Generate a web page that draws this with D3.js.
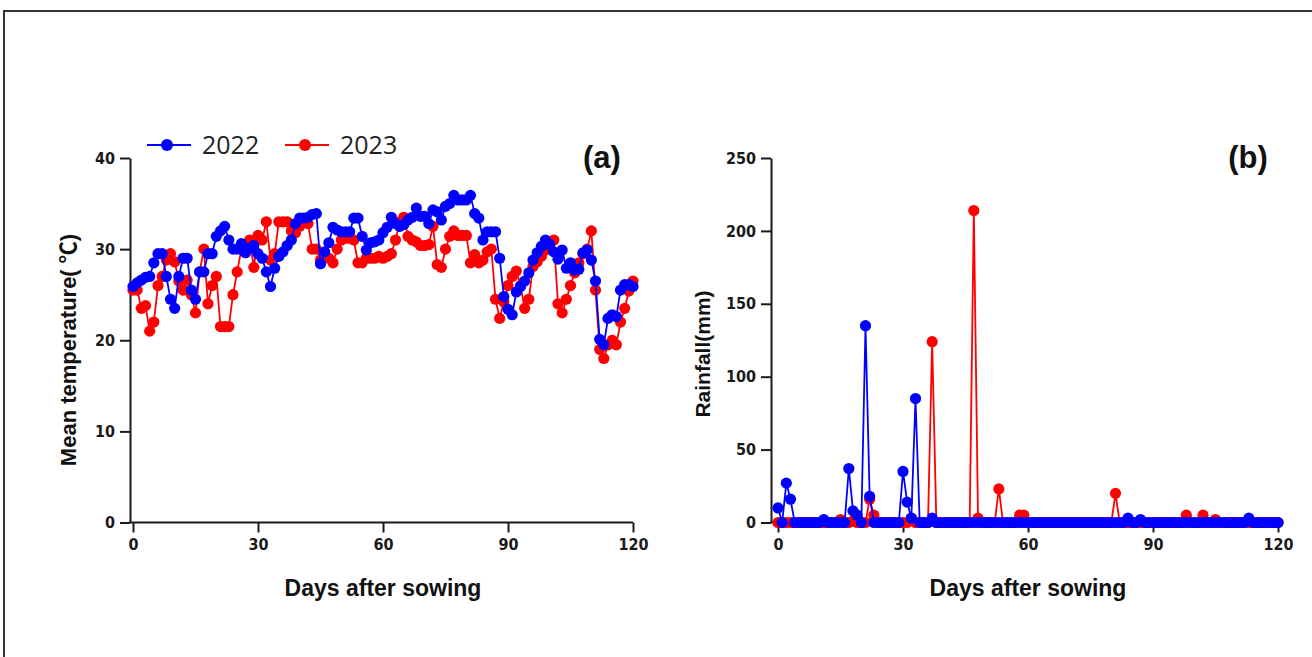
<!DOCTYPE html>
<html>
<head>
<meta charset="utf-8">
<script src="https://cdn.jsdelivr.net/npm/d3@7"></script>
<style>
  body { margin: 0; background: #fff; }
  .tick text { font-family: "Liberation Sans Narrow", "DejaVu Sans Condensed", "Liberation Sans", sans-serif; font-weight: bold; font-size: 16px; fill: #1a1a1a; }
  .tick line, .axis-line { stroke: #1a1a1a; stroke-width: 2; }
  .title { font-family: "Liberation Sans", Arial, sans-serif; font-weight: bold; font-size: 21px; fill: #111; }
  .xtitle { font-size: 23px; }
  .legend { font-family: "Open Sans", "Noto Sans", sans-serif; font-size: 25px; fill: #222; }
  .tag { font-family: "Liberation Sans", Arial, sans-serif; font-weight: bold; font-size: 31px; fill: #111; }
</style>
</head>
<body>
<svg id="chart" width="1312" height="657"></svg>
<script>
'use strict';

// days after sowing (0..120)
const days = d3.range(0, 121);
const years = ['2022', '2023'];
const xTicks = [0, 30, 60, 90, 120];
const tempTicks = [0, 10, 20, 30, 40];
const rainTicks = [0, 50, 100, 150, 200, 250];

// mean temperature (°C)
const temp2022 = [
  25.9, 26.3, 26.6, 26.9, 27.0, 28.5, 29.5, 29.5, 27.0, 24.5,
  23.5, 27.0, 29.0, 29.0, 25.5, 24.5, 27.5, 27.5, 29.5, 29.5,
  31.4, 32.0, 32.5, 31.0, 30.0, 30.0, 30.6, 29.6, 30.1, 30.4,
  29.5, 29.0, 27.5, 25.9, 27.9, 29.2, 29.7, 30.4, 31.0, 32.8,
  33.4, 33.4, 33.5, 33.8, 33.9, 28.4, 29.7, 30.7, 32.4, 32.1,
  31.9, 31.9, 31.9, 33.4, 33.4, 31.4, 29.9, 30.7, 30.8, 31.0,
  31.8, 32.4, 33.5, 32.8, 32.5, 32.7, 33.2, 33.5, 34.5, 33.6,
  33.6, 32.8, 34.3, 34.1, 33.2, 34.7, 35.0, 35.9, 35.4, 35.4,
  35.4, 35.9, 33.9, 33.4, 31.0, 31.9, 31.9, 31.9, 29.0, 24.8,
  23.4, 22.8, 25.3, 25.9, 26.5, 27.4, 28.8, 29.6, 30.3, 31.0,
  30.5, 29.7, 28.9, 29.9, 27.9, 28.5, 27.7, 27.8, 29.6, 29.9,
  28.8, 26.5, 20.1, 19.5, 22.4, 22.8, 22.6, 25.5, 26.1, 26.1,
  25.9
];
const temp2023 = [
  25.5, 25.5, 23.5, 23.8, 21.0, 22.0, 26.0, 27.0, 28.8, 29.5,
  28.6, 26.5, 25.5, 26.6, 25.0, 23.0, 27.5, 30.0, 24.0, 26.0,
  27.0, 21.5, 21.5, 21.5, 25.0, 27.5, 30.0, 30.5, 31.0, 28.0,
  31.5, 31.0, 33.0, 28.8, 29.5, 33.0, 33.0, 33.0, 32.0, 31.8,
  32.5, 33.0, 32.8, 30.0, 30.0, 28.8, 29.5, 29.0, 28.5, 30.0,
  31.0, 31.2, 31.2, 31.0, 28.5, 28.5, 29.0, 29.0, 29.0, 29.2,
  29.0, 29.2, 29.5, 31.0, 33.0, 33.5, 31.4, 31.0, 30.8, 30.4,
  30.4, 30.5, 32.5, 28.3, 28.0, 30.0, 31.4, 32.0, 31.5, 31.5,
  31.5, 28.5, 29.4, 28.5, 28.8, 29.7, 30.0, 24.5, 22.4, 24.2,
  26.0, 27.0, 27.6, 26.0, 23.5, 24.5, 28.1, 28.6, 29.2, 29.9,
  30.8, 31.0, 24.0, 23.0, 24.5, 26.0, 27.4, 28.5, 29.5, 30.0,
  32.0, 25.5, 19.0, 18.0, 19.5, 20.0, 19.5, 22.0, 23.5, 25.4,
  26.5
];

// daily rainfall (mm)
const rain2022 = [
  10, 0, 27, 16, 0, 0, 0, 0, 0, 0,
  0, 2, 0, 0, 0, 0, 0, 37, 8, 5,
  0, 135, 18, 0, 0, 0, 0, 0, 0, 0,
  35, 14, 3, 85, 0, 0, 0, 3, 0, 0,
  0, 0, 0, 0, 0, 0, 0, 0, 0, 0,
  0, 0, 0, 0, 0, 0, 0, 0, 0, 0,
  0, 0, 0, 0, 0, 0, 0, 0, 0, 0,
  0, 0, 0, 0, 0, 0, 0, 0, 0, 0,
  0, 0, 0, 0, 3, 0, 0, 2, 0, 0,
  0, 0, 0, 0, 0, 0, 0, 0, 0, 0,
  0, 0, 0, 0, 0, 0, 0, 0, 0, 0,
  0, 0, 0, 3, 0, 0, 0, 0, 0, 0,
  0
];
const rain2023 = [
  0, 0, 0, 0, 0, 0, 0, 0, 0, 0,
  0, 0, 0, 0, 0, 2, 0, 0, 1, 0,
  0, 0, 16, 5, 0, 0, 0, 0, 0, 0,
  0, 0, 3, 0, 0, 0, 0, 124, 0, 0,
  0, 0, 0, 0, 0, 0, 0, 214, 3, 0,
  0, 0, 0, 23, 0, 0, 0, 0, 5, 5,
  0, 0, 0, 0, 0, 0, 0, 0, 0, 0,
  0, 0, 0, 0, 0, 0, 0, 0, 0, 0,
  0, 20, 0, 0, 0, 0, 0, 0, 0, 0,
  0, 0, 0, 0, 0, 0, 0, 0, 5, 0,
  0, 0, 5, 0, 0, 2, 0, 0, 0, 0,
  0, 0, 0, 0, 0, 0, 0, 0, 0, 0,
  0
];

const colors = { '2022': '#0000ff', '2023': '#ff0000' };
const svg = d3.select('#chart');

// outer frame of the figure (cropped at right/bottom)
svg.append('path')
  .attr('d', 'M4,657 V11 H1312')
  .attr('fill', 'none')
  .attr('stroke', '#333')
  .attr('stroke-width', 2);

const plotTop = 158, plotBottom = 522.5;

function drawPanel(cfg) {
  const g = svg.append('g');
  const x = d3.scaleLinear().domain([0, 120]).range([cfg.x0, cfg.x0 + 500]);
  const y = d3.scaleLinear().domain([0, cfg.yMax]).range([plotBottom, plotTop]);

  // y axis
  const ya = g.append('g')
    .attr('transform', `translate(${cfg.axisX},0)`)
    .call(d3.axisLeft(y).tickValues(cfg.yTicks).tickSize(10).tickSizeOuter(0).tickPadding(5));
  ya.select('.domain').attr('stroke', '#1a1a1a').attr('stroke-width', 2);

  // x axis (line drawn from the y axis to the last tick)
  const xa = g.append('g')
    .attr('transform', `translate(0,${plotBottom})`)
    .call(d3.axisBottom(x).tickValues(xTicks).tickSize(10).tickSizeOuter(0).tickPadding(6));
  xa.select('.domain').remove();
  g.append('line').attr('class', 'axis-line')
    .attr('x1', cfg.axisX - 1).attr('x2', x(120))
    .attr('y1', plotBottom).attr('y2', plotBottom);

  // series: 2023 first, 2022 on top
  const line = d3.line().x((d, i) => x(days[i])).y(d => y(d));
  [['2023', cfg.s2023], ['2022', cfg.s2022]].forEach(([yr, vals]) => {
    g.append('path')
      .datum(vals)
      .attr('d', line)
      .attr('fill', 'none')
      .attr('stroke', colors[yr])
      .attr('stroke-width', 1.8);
    g.append('g').selectAll('circle')
      .data(vals)
      .join('circle')
      .attr('cx', (d, i) => x(days[i]))
      .attr('cy', d => y(d))
      .attr('r', 5.6)
      .attr('fill', colors[yr]);
  });

  // titles
  g.append('text').attr('class', 'title xtitle')
    .attr('x', x(60)).attr('y', 596)
    .attr('text-anchor', 'middle')
    .text('Days after sowing');
  const yt = g.append('text').attr('class', 'title')
    .attr('transform', `translate(${cfg.titleX},${cfg.titleY}) rotate(-90)`)
    .attr('text-anchor', 'middle')
    .style('font-size', cfg.titleSize + 'px')
    .text(cfg.yTitle);
  if (cfg.unit) {
    yt.append('tspan').style('font-family', '"Noto Sans CJK SC", sans-serif').text(cfg.unit);
    yt.append('tspan').text(')');
  }
  g.append('text').attr('class', 'tag')
    .attr('x', cfg.tagX).attr('y', 168)
    .attr('text-anchor', 'middle')
    .text(cfg.tag);
}

drawPanel({
  axisX: 130, x0: 133, yMax: 40, yTicks: tempTicks,
  s2022: temp2022, s2023: temp2023,
  yTitle: 'Mean temperature( ', unit: '℃', titleSize: 22, titleX: 76, titleY: 350,
  tag: '(a)', tagX: 602
});
drawPanel({
  axisX: 771, x0: 778, yMax: 250, yTicks: rainTicks,
  s2022: rain2022, s2023: rain2023,
  yTitle: 'Rainfall(mm)', titleSize: 21, titleX: 710, titleY: 354,
  tag: '(b)', tagX: 1248
});

// legend
const legend = svg.append('g');
[['2022', 147], ['2023', 285]].forEach(([yr, lx]) => {
  const lg = legend.append('g').attr('transform', `translate(${lx},145)`);
  lg.append('line').attr('x1', 0).attr('x2', 44).attr('y1', 0).attr('y2', 0)
    .attr('stroke', colors[yr]).attr('stroke-width', 1.8);
  lg.append('circle').attr('cx', 20).attr('cy', 0).attr('r', 6).attr('fill', colors[yr]);
  lg.append('text').attr('class', 'legend').attr('x', 55).attr('y', 9).text(yr);
});
</script>
</body>
</html>
